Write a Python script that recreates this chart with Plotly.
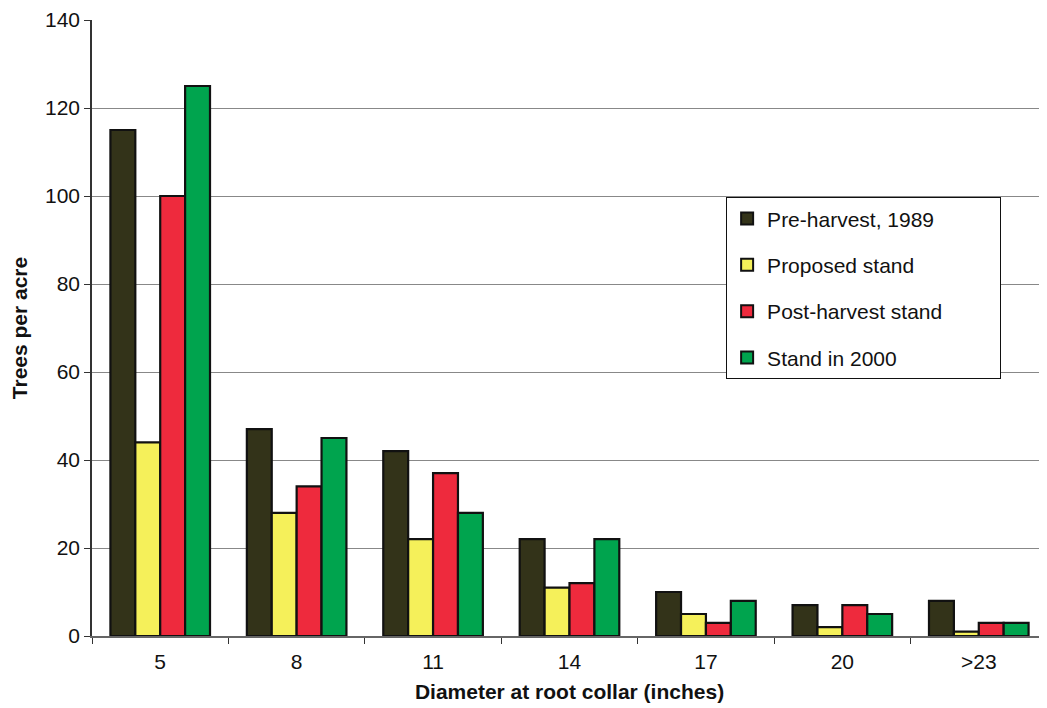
import plotly.graph_objects as go

categories = ["5", "8", "11", "14", "17", "20", ">23"]
pre_harvest = [115, 47, 42, 22, 10, 7, 8]
proposed = [44, 28, 22, 11, 5, 2, 1]
post_harvest = [100, 34, 37, 12, 3, 7, 3]
stand_2000 = [125, 45, 28, 22, 8, 5, 3]
y_ticks = [0, 20, 40, 60, 80, 100, 120, 140]

series = [
    ("Pre-harvest, 1989", pre_harvest, "#333319"),
    ("Proposed stand", proposed, "#F5F05A"),
    ("Post-harvest stand" + "\u00a0" * 9, post_harvest, "#EE2A3D"),
    ("Stand in 2000", stand_2000, "#00A44E"),
]

fig = go.Figure()
for i, (name, vals, col) in enumerate(series):
    fig.add_trace(go.Bar(
        x=categories, y=vals, name=name, legendgroup=str(i),
        marker=dict(color=col, line=dict(color="#111111", width=2.2)),
    ))

font = "Liberation Sans, Arial, sans-serif"
fig.update_layout(
    width=1039, height=700,
    margin=dict(l=84, r=0, t=10, b=72),
    paper_bgcolor="white", plot_bgcolor="white",
    barmode="group", bargap=0.27, bargroupgap=0,
    font=dict(family=font, size=21, color="#111111"),
    showlegend=True,
    legend=dict(
        x=0.664, y=0.712, xanchor="left", yanchor="top",
        bgcolor="white", bordercolor="#111111", borderwidth=1,
        font=dict(size=21, family=font, color="#111111"),
        tracegroupgap=16, itemsizing="constant",
    ),
    xaxis=dict(
        title=dict(text="<b>Diameter at root collar (inches)</b>", font=dict(size=21), standoff=12),
        showline=True, linecolor="#666666", linewidth=2,
        ticks="outside", tickson="boundaries", ticklen=6, tickcolor="#333333",
        ticklabelstandoff=6,
        showgrid=False, tickfont=dict(size=21),
    ),
    yaxis=dict(
        title=dict(text="<b>Trees per acre</b>", font=dict(size=21), standoff=12),
        range=[0, 140], tickmode="array", tickvals=y_ticks,
        ticklabeloverflow="allow",
        showline=True, linecolor="#333333", linewidth=1.5,
        ticks="outside", ticklen=6, tickcolor="#333333",
        showgrid=True, gridcolor="#888888", gridwidth=1.2,
        zeroline=False, tickfont=dict(size=21),
    ),
)

fig.write_html("out.html")
